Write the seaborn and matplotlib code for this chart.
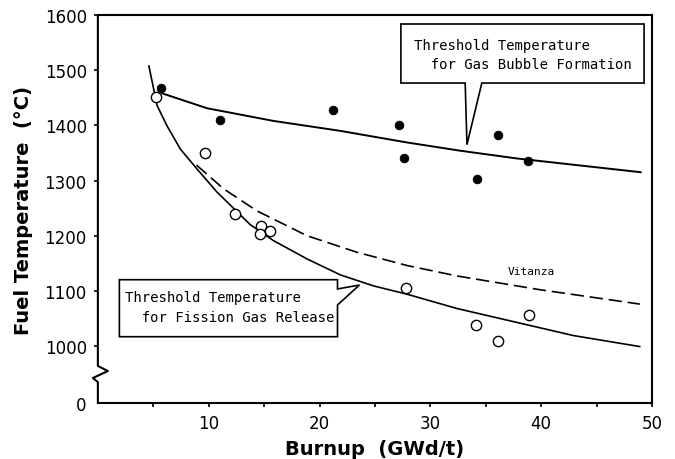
import numpy as np
import pandas as pd
import matplotlib
matplotlib.use("Agg")
import matplotlib.pyplot as plt
from matplotlib.patches import Polygon
import seaborn as sns

# measured points: gas bubble formation (filled) and fission gas release (open)
bubble_burnup = [5.7, 11.0, 21.2, 27.2, 27.6, 34.2, 36.1, 38.8]
bubble_temp = [1467, 1410, 1427, 1401, 1341, 1303, 1382, 1336]

release_burnup = [5.2, 9.7, 12.4, 14.7, 14.65, 15.5, 27.8, 34.1, 36.1, 38.9]
release_temp = [1452, 1349, 1240, 1218, 1203, 1209, 1105, 1039, 1010, 1057]

# threshold curves
bubble_line_x = [5.8, 9.85, 15.85, 21.87, 27.88, 32.7, 37.8, 49.0]
bubble_line_t = [1458, 1431, 1408, 1390, 1369, 1354, 1340, 1315]

release_line_x = [4.6, 5.34, 6.24, 7.44, 8.94, 10.75, 13.75, 15.85, 18.86, 21.87, 24.87,
                  27.88, 32.4, 38.4, 42.9, 48.9]
release_line_t = [1508, 1436, 1399, 1357, 1321, 1279, 1220, 1191, 1158, 1129, 1109,
                  1094, 1068, 1040, 1019, 999]

vitanza_x = [8.9, 11.34, 14.35, 18.86, 23.37, 27.88, 32.4, 39.9, 48.9]
vitanza_t = [1328, 1285, 1245, 1200, 1170, 1146, 1127, 1102, 1076]

y_ticks = [1000, 1100, 1200, 1300, 1400, 1500, 1600]
y_zero = 896.7   # where "0" sits below the axis break

sns.set_style("ticks")
plt.rcParams['font.family'] = ['DejaVu Sans']
plt.rcParams['text.color'] = 'black'
plt.rcParams['axes.labelcolor'] = 'black'
plt.rcParams['xtick.color'] = 'black'
plt.rcParams['ytick.color'] = 'black'

fig = plt.figure(figsize=(6.75, 4.6), dpi=100)
ax = fig.add_axes([0.145, 0.1217, 0.821, 0.8435])

df_bl = pd.DataFrame({'x': bubble_line_x, 't': bubble_line_t})
df_rl = pd.DataFrame({'x': release_line_x, 't': release_line_t})
df_vi = pd.DataFrame({'x': vitanza_x, 't': vitanza_t})
sns.lineplot(data=df_bl, x='x', y='t', color='black', lw=1.4, sort=False, estimator=None, ax=ax)
sns.lineplot(data=df_rl, x='x', y='t', color='black', lw=1.2, sort=False, estimator=None, ax=ax)
sns.lineplot(data=df_vi, x='x', y='t', color='black', lw=1.2, sort=False, estimator=None,
             linestyle=(0, (8, 3.5)), ax=ax)

df_b = pd.DataFrame({'x': bubble_burnup, 't': bubble_temp})
df_r = pd.DataFrame({'x': release_burnup, 't': release_temp})
sns.scatterplot(data=df_b, x='x', y='t', color='black', s=40, edgecolor='black', zorder=5, ax=ax)
sns.scatterplot(data=df_r, x='x', y='t', facecolor='white', s=55, edgecolor='black',
                linewidth=1.0, zorder=6, ax=ax)

ax.set_xlim(0, 50)
ax.set_ylim(y_zero, 1600)
ax.set_xticks([10, 20, 30, 40, 50])
ax.set_xticks([5, 15, 25, 35, 45], minor=True)
ax.set_yticks([y_zero] + y_ticks)
ax.set_yticklabels(['0'] + [str(v) for v in y_ticks])
ax.tick_params(which='both', direction='out', length=3, width=1.2, color='black',
               labelcolor='black', labelsize=12, pad=5)
ax.yaxis.get_major_ticks()[0].tick1line.set_visible(False)

for s in ['top', 'right', 'bottom']:
    ax.spines[s].set_linewidth(1.5)
    ax.spines[s].set_color('black')
ax.spines['left'].set_visible(False)

# left spine with the zigzag break
bx = [0, 0, 0.018, -0.009, 0, 0]
by = [1, 0.0954, 0.0825, 0.0644, 0.054, 0]
ax.plot(bx, by, color='black', lw=1.5, transform=ax.transAxes, clip_on=False, zorder=10)

ax.set_xlabel('Burnup  (GWd/t)', fontsize=14, fontweight='bold', labelpad=5)
ax.set_ylabel('Fuel Temperature  (°C)', fontsize=14, fontweight='bold', labelpad=8)

# callout boxes
box1 = [(27.34, 1583.7), (49.28, 1583.7), (49.28, 1476.7), (34.64, 1476.7),
        (33.3, 1365), (33.14, 1476.7), (27.34, 1476.7)]
ax.add_patch(Polygon(box1, closed=True, facecolor='white', edgecolor='black', lw=1.2, zorder=7))
ax.text(28.54, 1528, 'Threshold Temperature\n  for Gas Bubble Formation', family='DejaVu Sans Mono',
        fontsize=10, va='center', ha='left', linespacing=1.5, zorder=8)

box2 = [(1.94, 1120.2), (21.62, 1120.2), (21.62, 1103.4), (23.6, 1110.6),
        (21.62, 1074.4), (21.62, 1016.9), (1.94, 1016.9)]
ax.add_patch(Polygon(box2, closed=True, facecolor='white', edgecolor='black', lw=1.2, zorder=7))
ax.text(2.48, 1071, 'Threshold Temperature\n  for Fission Gas Release', family='DejaVu Sans Mono',
        fontsize=10, va='center', ha='left', linespacing=1.5, zorder=8)

ax.text(37.0, 1136, 'Vitanza', family='DejaVu Sans Mono', fontsize=8, va='center', ha='left')

fig.savefig('out.png', dpi=100)
